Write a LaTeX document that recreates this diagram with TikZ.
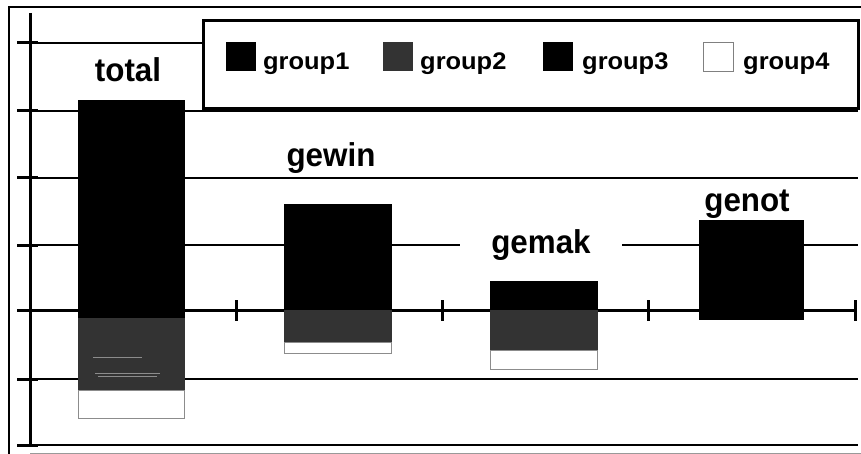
\documentclass[tikz,border=0pt]{standalone}
\usepackage{fontspec}
\setmainfont{Liberation Sans}
\definecolor{grpB}{gray}{0.2}
\begin{document}
\begin{tikzpicture}[x=1pt,y=-1pt,
  gridline/.style={line width=2pt},
  axisline/.style={line width=3pt},
  tickmark/.style={line width=3pt},
  barlabel/.style={font=\fontsize{33}{33}\selectfont\bfseries, anchor=base, fill=white, inner xsep=2pt, inner ysep=1pt},
  legtext/.style={font=\fontsize{24}{24}\selectfont\bfseries, anchor=base west, inner sep=0pt},
  swatch/.style={minimum width=30pt, minimum height=29pt, inner sep=0pt, anchor=north west},
  whiteseg/.style={fill=white, draw=black!45, line width=1pt}]
\useasboundingbox (0,0) rectangle (861,454);
\fill[white] (0,0) rectangle (861,454);
% outer frame
\draw[line width=2pt] (9,454) -- (9,7) -- (861,7);
\draw[line width=1pt, black!40] (30,453) -- (861,453);
% gridlines with y ticks
\foreach \yy in {43,111,178,245,379,445}
  \draw[gridline] (17,\yy) -- (858,\yy);
\foreach \yy in {43,111,178,245,310,379,445}
  \draw[tickmark] (17,\yy) -- (38,\yy);
% y axis
\draw[axisline] (30,13) -- (30,447);
% x axis with ticks
\draw[axisline] (30,310) -- (857,310);
\foreach \xx in {236,442,648,855}
  \draw[tickmark] (\xx,300) -- (\xx,321);
% bars
% total
\fill[black] (78,100) rectangle (185,310);
\fill[grpB] (78,310) rectangle (185,390);
\fill[black] (78,310) rectangle (185,318);
\draw[black!45, line width=1pt] (93,357) -- (142,357);
\draw[black!45, line width=1pt] (95,373) -- (160,373);
\draw[black!45, line width=1pt] (98,376) -- (157,376);
\filldraw[whiteseg] (78.5,390) rectangle (184.5,418);
% gewin
\fill[black] (284,204) rectangle (392,310);
\fill[grpB] (284,310) rectangle (392,342);
\filldraw[whiteseg] (284.5,342) rectangle (391.5,353);
% gemak
\fill[black] (490,281) rectangle (598,310);
\fill[grpB] (490,310) rectangle (598,350);
\filldraw[whiteseg] (490.5,350) rectangle (597.5,369);
% genot
\fill[black] (699,220) rectangle (804,320);
% bar labels
\node[barlabel] (ltotal) at (128,82) {\scalebox{0.95}[1]{total}};
\node[barlabel] (lgewin) at (331,167) {\scalebox{0.95}[1]{gewin}};
\node[barlabel, inner xsep=31pt] (lgemak) at (541,254) {\scalebox{0.95}[1]{gemak}};
\node[barlabel, fill=none] (lgenot) at (747,212) {\scalebox{0.95}[1]{genot}};
% legend
\node[draw, line width=3pt, fill=white, minimum width=655pt, minimum height=88pt, inner sep=0pt, anchor=north west] (legend) at (202,19) {};
\node[swatch, fill=black] (s1) at (226,42) {};
\node[swatch, fill=grpB] (s2) at (383,42) {};
\node[swatch, fill=black] (s3) at (543,42) {};
\node[swatch, fill=white, draw=black!50, line width=1pt] (s4) at (703,42) {};
\node[legtext] (t1) at (263,70) {\scalebox{1.06}[1]{group1}};
\node[legtext] (t2) at (420,70) {\scalebox{1.06}[1]{group2}};
\node[legtext] (t3) at (582,70) {\scalebox{1.06}[1]{group3}};
\node[legtext] (t4) at (743,70) {\scalebox{1.06}[1]{group4}};
\end{tikzpicture}
\end{document}
